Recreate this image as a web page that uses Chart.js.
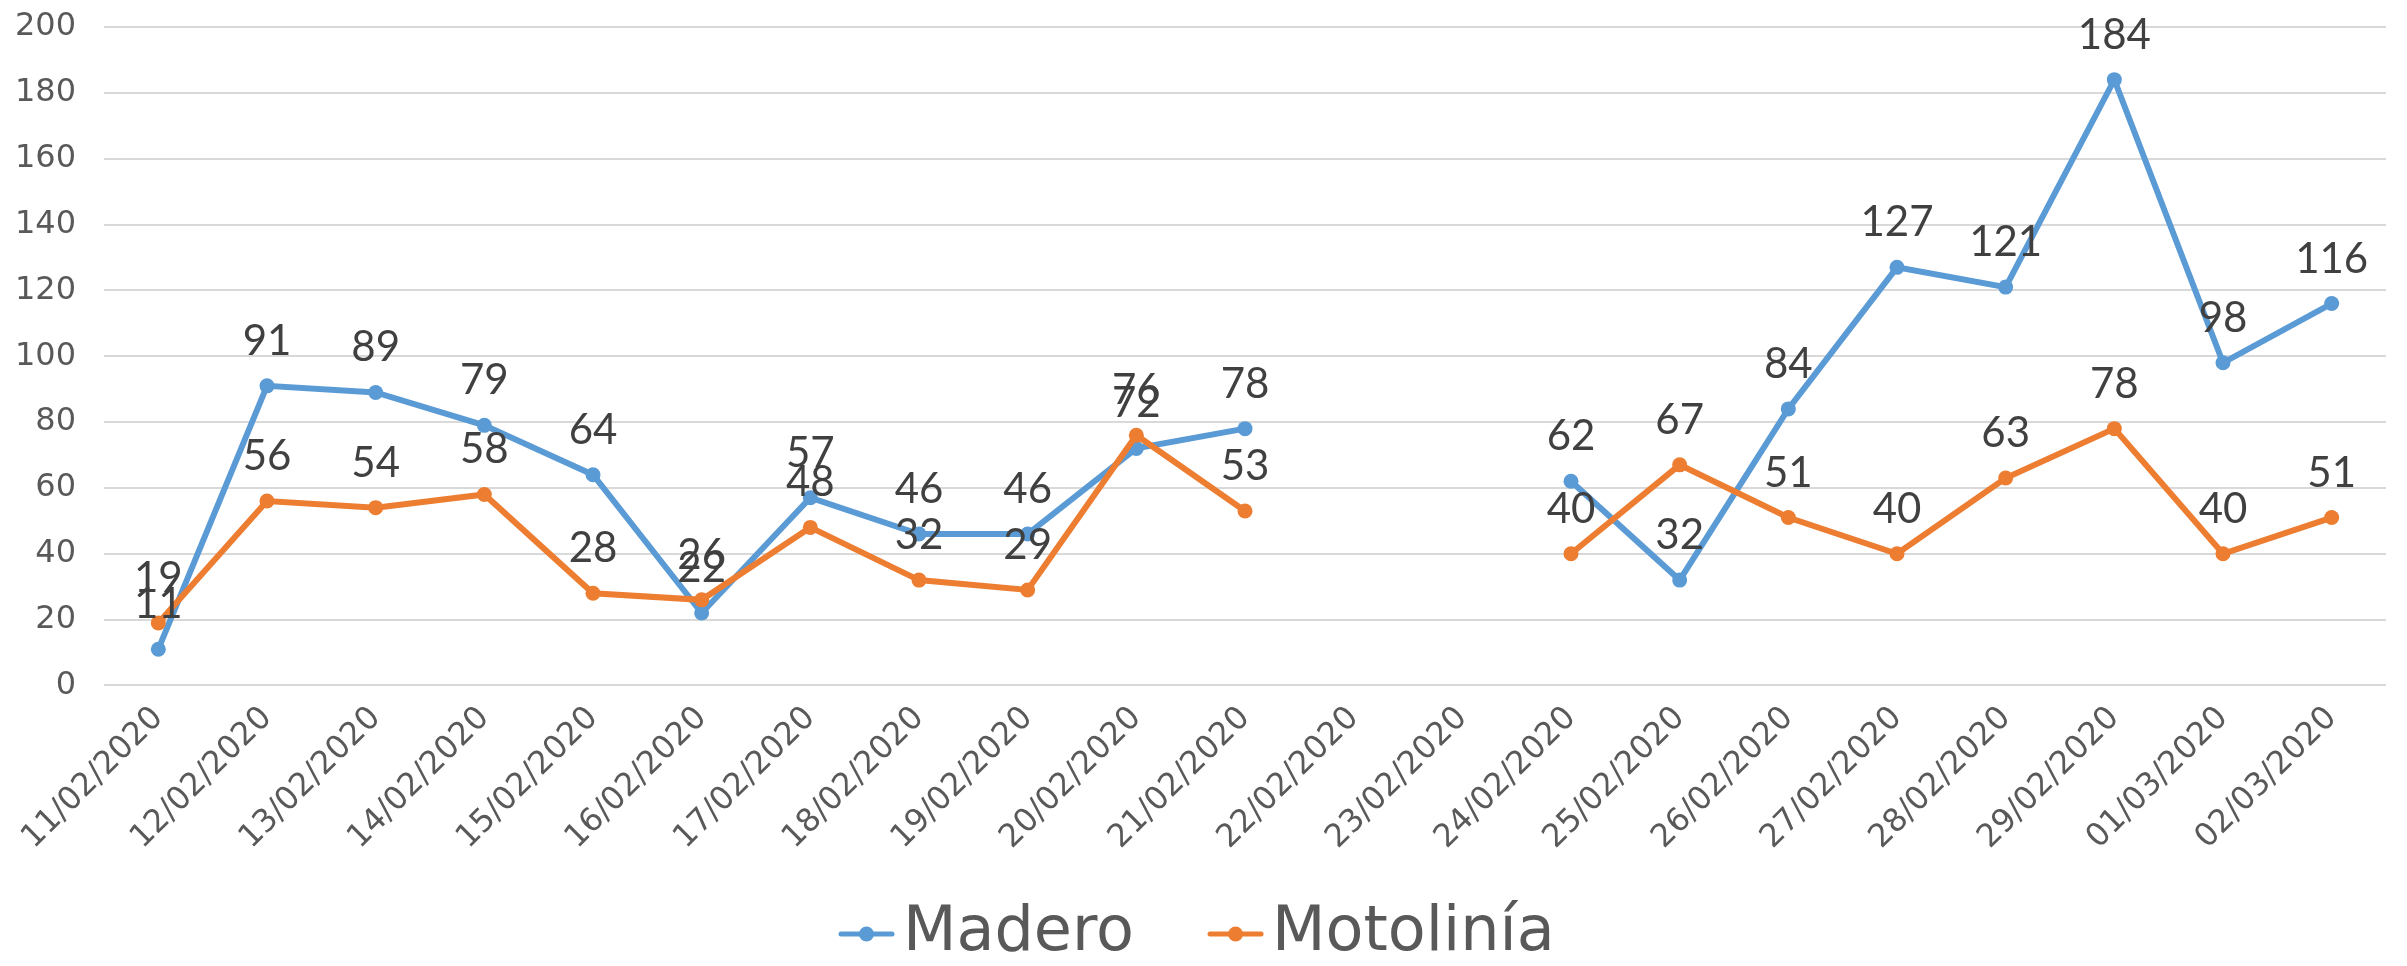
<!DOCTYPE html>
<html>
<head>
<meta charset="utf-8">
<script src="https://cdn.jsdelivr.net/npm/chart.js@4.4.1/dist/chart.umd.min.js"></script>
<style>
  html, body { margin: 0; padding: 0; background: #ffffff; }
  canvas { display: block; }
</style>
</head>
<body>
<canvas id="chart" width="2407" height="966"></canvas>
<script>
// Daily counts per site, 11/02/2020 – 02/03/2020 (no records on 22 and 23/02)
const dates = [
  '11/02/2020', '12/02/2020', '13/02/2020', '14/02/2020', '15/02/2020',
  '16/02/2020', '17/02/2020', '18/02/2020', '19/02/2020', '20/02/2020',
  '21/02/2020', '22/02/2020', '23/02/2020', '24/02/2020', '25/02/2020',
  '26/02/2020', '27/02/2020', '28/02/2020', '29/02/2020', '01/03/2020',
  '02/03/2020'
];
const madero = [11, 91, 89, 79, 64, 22, 57, 46, 46, 72, 78, null, null, 62, 32, 84, 127, 121, 184, 98, 116];
const motolinia = [19, 56, 54, 58, 28, 26, 48, 32, 29, 76, 53, null, null, 40, 67, 51, 40, 63, 78, 40, 51];
const yMin = 0, yMax = 200, yStep = 20;

const BLUE = '#5B9BD5';
const ORANGE = '#ED7D31';
const AXIS_TEXT = '#595959';
const LABEL_TEXT = '#404040';

// Legend key: short line with a dot in the middle
function legendKey(color) {
  const w = 57, h = 18;
  const c = document.createElement('canvas');
  c.width = w; c.height = h;
  const g = c.getContext('2d');
  g.strokeStyle = color;
  g.fillStyle = color;
  g.lineWidth = 5;
  g.lineCap = 'round';
  g.beginPath(); g.moveTo(3, h / 2); g.lineTo(w - 3, h / 2); g.stroke();
  g.beginPath(); g.arc(w / 2, h / 2, 7.5, 0, Math.PI * 2); g.fill();
  return c;
}

// Value labels above every point
const valueLabels = {
  id: 'valueLabels',
  afterDatasetsDraw(chart) {
    const ctx = chart.ctx;
    ctx.save();
    ctx.font = '42px Lato, "Open Sans", sans-serif';
    ctx.fillStyle = LABEL_TEXT;
    ctx.textAlign = 'center';
    ctx.textBaseline = 'alphabetic';
    chart.data.datasets.forEach((ds, i) => {
      const meta = chart.getDatasetMeta(i);
      meta.data.forEach((pt, j) => {
        const v = ds.data[j];
        if (v === null || v === undefined) return;
        ctx.fillText(String(v), pt.x, pt.y - 31);
      });
    });
    ctx.restore();
  }
};

// Places the legend row so that its first key starts at opts.startX
const legendPlacement = {
  id: 'legendPlacement',
  afterLayout(chart, args, opts) {
    const lg = chart.legend;
    if (!lg || lg._placed) return;
    const orig = lg.draw.bind(lg);
    lg.draw = function (area) {
      const pad = lg.options.labels.padding;
      const x0 = (lg.left + pad + lg.right - lg.lineWidths[0]) / 2;
      const keyW = keys['Madero'].width;
      const boxW = lg.options.labels.pointStyleWidth || 1;
      const m0 = x0 + boxW / 2 - keyW / 2;
      const ctx = chart.ctx;
      const savedBottom = lg.bottom;
      lg.bottom = lg.top + 1000;
      ctx.save();
      ctx.translate(opts.startX - m0, opts.dy);
      orig(area);
      ctx.restore();
      lg.bottom = savedBottom;
    };
    lg._placed = true;
  }
};

const keys = { 'Madero': legendKey(BLUE), 'Motolinía': legendKey(ORANGE) };

new Chart(document.getElementById('chart'), {
  type: 'line',
  data: {
    labels: dates,
    datasets: [
      {
        label: 'Madero',
        data: madero,
        borderColor: BLUE,
        backgroundColor: BLUE,
        borderWidth: 6,
        pointRadius: 7.5,
        pointBorderWidth: 0,
        pointBackgroundColor: BLUE,
        spanGaps: false,
        tension: 0,
        order: 1
      },
      {
        label: 'Motolinía',
        data: motolinia,
        borderColor: ORANGE,
        backgroundColor: ORANGE,
        borderWidth: 6,
        pointRadius: 7.5,
        pointBorderWidth: 0,
        pointBackgroundColor: ORANGE,
        spanGaps: false,
        tension: 0,
        order: 0
      }
    ]
  },
  options: {
    responsive: false,
    animation: false,
    layout: { padding: { top: 27, right: 21, left: 14, bottom: 0 } },
    scales: {
      x: {
        type: 'category',
        offset: true,
        grid: { display: false, drawTicks: false },
        border: { display: false },
        afterFit(scale) {
          scale.paddingLeft = 0; scale.paddingRight = 0;
        },
        ticks: {
          autoSkip: false,
          minRotation: 45,
          maxRotation: 45,
          padding: 14,
          color: AXIS_TEXT,
          font: { family: '"DejaVu Sans", sans-serif', size: 32 }
        }
      },
      y: {
        min: yMin,
        max: yMax,
        grid: { color: '#d9d9d9', lineWidth: 2, drawTicks: false },
        border: { display: false },
        afterFit(scale) {
          scale.paddingTop = 0; scale.paddingBottom = 0;
          scale.paddingLeft = 0; scale.paddingRight = 0;
          scale.width = 90;
        },
        ticks: {
          stepSize: yStep,
          padding: 28,
          color: AXIS_TEXT,
          font: { family: '"DejaVu Sans", sans-serif', size: 32 }
        }
      }
    },
    plugins: {
      tooltip: { enabled: false },
      legendPlacement: { startX: 838, dy: -64 },
      legend: {
        position: 'bottom',
        align: 'center',
        maxHeight: 95,
        labels: {
          usePointStyle: true,
          boxWidth: 11,
          pointStyleWidth: 11,
          boxHeight: 18,
          padding: 96,
          color: AXIS_TEXT,
          font: { family: '"DejaVu Sans", sans-serif', size: 62 },
          sort: (a, b) => a.datasetIndex - b.datasetIndex,
          generateLabels(chart) {
            const items = Chart.defaults.plugins.legend.labels.generateLabels(chart);
            items.forEach(it => { it.pointStyle = keys[it.text]; });
            return items;
          }
        }
      }
    }
  },
  plugins: [valueLabels, legendPlacement]
});
</script>
</body>
</html>
